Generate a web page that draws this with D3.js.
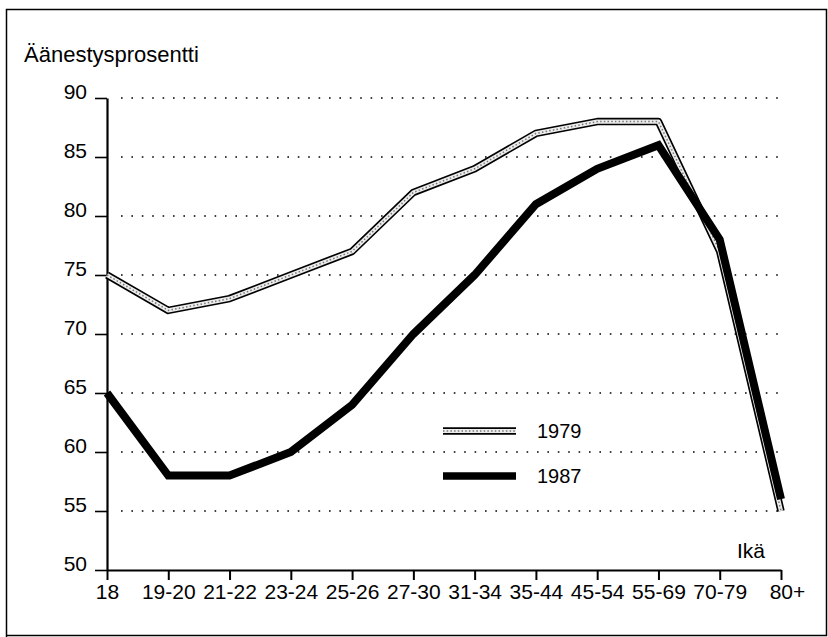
<!DOCTYPE html>
<html>
<head>
<meta charset="utf-8">
<script src="https://cdn.jsdelivr.net/npm/d3@7"></script>
<style>
  body { margin: 0; background: #fff; }
  svg { display: block; font-family: "Liberation Sans", Arial, sans-serif; }
</style>
</head>
<body>
<div id="chart"></div>
<script>
// data
const ages = ['18', '19-20', '21-22', '23-24', '25-26', '27-30', '31-34', '35-44', '45-54', '55-69', '70-79', '80+'];
const votes1979 = [75, 72, 73, 75, 77, 82, 84, 87, 88, 88, 77, 55];
const votes1987 = [65, 58, 58, 60, 64, 70, 75, 81, 84, 86, 78, 56];
const yTicks = [50, 55, 60, 65, 70, 75, 80, 85, 90];
const gridTicks = [55, 60, 65, 70, 75, 80, 85, 90];

const width = 828, height = 637;
const margin = {left: 107, right: 47, top: 98, bottom: 67};

const svg = d3.select('#chart').append('svg')
  .attr('width', width).attr('height', height);

// frame
svg.append('path')
  .attr('d', `M6.5,${height}V9.5H826.5V635.5H6.5`)
  .attr('fill', 'none').attr('stroke', '#000').attr('stroke-width', 1.5);

const xScale = d3.scalePoint().domain(ages).range([margin.left, width - margin.right]);
const yScale = d3.scaleLinear().domain([50, 90]).range([height - margin.bottom, margin.top]);

// dotted grid
svg.append('g').selectAll('line').data(gridTicks).join('line')
  .attr('x1', margin.left + 14).attr('x2', width - margin.right)
  .attr('y1', d => yScale(d)).attr('y2', d => yScale(d))
  .attr('stroke', '#000').attr('stroke-width', 1.6)
  .attr('stroke-dasharray', '1.6,8.8');

// y axis
const yAxisG = svg.append('g')
  .attr('transform', `translate(${margin.left},0)`)
  .call(d3.axisLeft(yScale).tickValues(yTicks).tickSize(12).tickSizeOuter(0));
yAxisG.select('.domain').attr('stroke-width', 2.2);
yAxisG.selectAll('.tick line').attr('stroke-width', 1.6);
yAxisG.selectAll('.tick text')
  .attr('x', -20).attr('dy', '0em')
  .attr('font-size', 21).attr('fill', '#000');

// x axis
const xAxisG = svg.append('g')
  .attr('transform', `translate(0,${height - margin.bottom})`)
  .call(d3.axisBottom(xScale).tickSize(10).tickSizeOuter(0).tickPadding(4));
xAxisG.select('.domain').attr('stroke-width', 2.2);
xAxisG.selectAll('.tick line').attr('stroke-width', 2);
xAxisG.selectAll('.tick text').attr('font-size', 21).attr('fill', '#000');
xAxisG.selectAll('.tick text').filter(d => d === '80+').attr('dx', 6);

// titles
svg.append('text').attr('x', 24).attr('y', 62)
  .attr('font-size', 22).text('Äänestysprosentti');
svg.append('text').attr('x', 765).attr('y', 558)
  .attr('text-anchor', 'end').attr('font-size', 21).text('Ikä');

const line = d3.line().x((d, i) => xScale(ages[i])).y(d => yScale(d));

// 1979: outlined light line with fine dot texture
function draw1979(sel, d) {
  sel.append('path').attr('d', d).attr('fill', 'none')
    .attr('stroke', '#000').attr('stroke-width', 7.5).attr('stroke-linejoin', 'round');
  sel.append('path').attr('d', d).attr('fill', 'none')
    .attr('stroke', '#ececec').attr('stroke-width', 4.2).attr('stroke-linejoin', 'round');
  sel.append('path').attr('d', d).attr('fill', 'none')
    .attr('stroke', '#777').attr('stroke-width', 1.5)
    .attr('stroke-dasharray', '1.5,2.2').attr('stroke-linejoin', 'round');
}

const g = svg.append('g');
draw1979(g, line(votes1979));
g.append('path').attr('d', line(votes1987)).attr('fill', 'none')
  .attr('stroke', '#000').attr('stroke-width', 8).attr('stroke-linejoin', 'miter');

// legend
const legendItems = [{name: '1979', y: 431}, {name: '1987', y: 476}];
const lg = svg.append('g');
legendItems.forEach(item => {
  const d = `M443,${item.y}H516`;
  if (item.name === '1979') {
    draw1979(lg, d);
  } else {
    lg.append('path').attr('d', d).attr('stroke', '#000').attr('stroke-width', 7.5);
  }
  lg.append('text').attr('x', 537).attr('y', item.y + 7)
    .attr('font-size', 20).text(item.name);
});
</script>
</body>
</html>
